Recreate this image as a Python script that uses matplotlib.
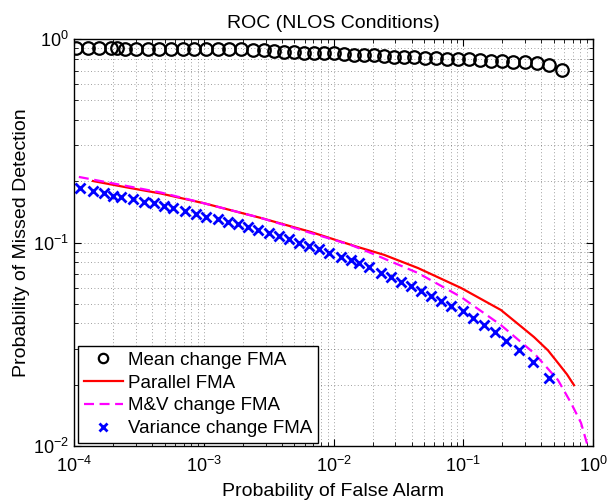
import numpy as np
import matplotlib
matplotlib.use("Agg")
import matplotlib.pyplot as plt
from matplotlib.ticker import LogLocator, NullFormatter

plt.rcParams["font.family"] = ["Liberation Sans", "DejaVu Sans"]
plt.rcParams["mathtext.fontset"] = "custom"
plt.rcParams["mathtext.rm"] = "Liberation Sans"

# Mean change FMA (circles)
pfa_mean = [1.04e-4, 1.28e-4, 1.56e-4, 1.93e-4, 2.14e-4, 2.47e-4, 3.01e-4, 3.72e-4,
            4.52e-4, 5.59e-4, 6.92e-4, 8.41e-4, 1.04e-3, 1.29e-3, 1.57e-3, 1.94e-3,
            2.40e-3, 2.91e-3, 3.48e-3, 4.15e-3, 4.96e-3, 5.92e-3, 7.07e-3, 8.45e-3,
            1.01e-2, 1.20e-2, 1.44e-2, 1.72e-2, 2.05e-2, 2.45e-2, 2.93e-2, 3.49e-2,
            4.17e-2, 5.07e-2, 6.17e-2, 7.50e-2, 9.11e-2, 0.111, 0.135, 0.164,
            0.199, 0.242, 0.299, 0.370, 0.458, 0.577]
pmd_mean = [0.903, 0.903, 0.903, 0.903, 0.903, 0.898, 0.898, 0.898,
            0.898, 0.898, 0.893, 0.893, 0.893, 0.893, 0.888, 0.888,
            0.883, 0.878, 0.873, 0.868, 0.863, 0.858, 0.854, 0.849,
            0.849, 0.844, 0.839, 0.834, 0.830, 0.825, 0.820, 0.816,
            0.816, 0.811, 0.807, 0.802, 0.798, 0.793, 0.789, 0.784,
            0.780, 0.775, 0.771, 0.762, 0.745, 0.704]

# Parallel FMA (solid red)
pfa_par = [1.40e-4, 2.5e-4, 4.68e-4, 1.0e-3, 2.76e-3, 6.71e-3, 1.5e-2, 2.45e-2,
           4.48e-2, 9.61e-2, 0.195, 0.28, 0.351, 0.45, 0.537, 0.63, 0.714]
pmd_par = [0.2005, 0.187, 0.174, 0.156, 0.132, 0.1126, 0.0955, 0.0870,
           0.0749, 0.0598, 0.0466, 0.0386, 0.0343, 0.0295, 0.0256, 0.0225, 0.0199]

# M&V change FMA (dashed magenta)
pfa_mv = [1.09e-4, 2.5e-4, 4.68e-4, 1.0e-3, 2.76e-3, 6.71e-3, 1.365e-2, 1.945e-2,
          4.48e-2, 9.61e-2, 0.195, 0.351, 0.537, 0.676, 0.808, 0.915, 0.95]
pmd_mv = [0.210, 0.190, 0.176, 0.156, 0.132, 0.1113, 0.0972, 0.0888,
          0.0708, 0.0540, 0.0393, 0.0286, 0.0211, 0.0163, 0.0130, 0.00989, 0.0076]

# Variance change FMA (blue crosses)
pfa_var = [1.12e-4, 1.39e-4, 1.71e-4, 1.99e-4, 2.30e-4, 2.83e-4, 3.48e-4, 4.16e-4,
           4.97e-4, 5.76e-4, 7.17e-4, 8.71e-4, 1.05e-3, 1.28e-3, 1.53e-3, 1.83e-3,
           2.18e-3, 2.61e-3, 3.20e-3, 3.82e-3, 4.56e-3, 5.45e-3, 6.51e-3, 7.77e-3,
           9.29e-3, 1.14e-2, 1.36e-2, 1.58e-2, 1.88e-2, 2.32e-2, 2.77e-2, 3.31e-2,
           3.96e-2, 4.72e-2, 5.64e-2, 6.74e-2, 8.05e-2, 9.96e-2, 0.119, 0.144,
           0.176, 0.214, 0.269, 0.345, 0.458]
pmd_var = [0.1846, 0.1797, 0.1745, 0.1698, 0.1668, 0.1631, 0.1586, 0.1558,
           0.1511, 0.1472, 0.1428, 0.1380, 0.1339, 0.1300, 0.1265, 0.1228,
           0.1196, 0.1152, 0.1110, 0.1076, 0.1036, 0.0991, 0.0961, 0.0926,
           0.0891, 0.0851, 0.0820, 0.0790, 0.0758, 0.0708, 0.0677, 0.0639,
           0.0611, 0.0578, 0.0546, 0.0516, 0.0487, 0.0461, 0.0426, 0.0393,
           0.0363, 0.0328, 0.0296, 0.0259, 0.0216]

fig = plt.figure(figsize=(6.07, 5.0), dpi=100)
ax = fig.add_axes([74 / 607, 1 - 446 / 500, (593 - 74) / 607, (446 - 39) / 500])

ax.loglog(pfa_mean, pmd_mean, "o", mfc="none", mec="black", ms=9, mew=1.6,
          label="Mean change FMA")
ax.loglog(pfa_par, pmd_par, "-", color="red", lw=1.6, label="Parallel FMA")
ax.loglog(pfa_mv, pmd_mv, "--", color="magenta", lw=1.6, dashes=(4.5, 2.5),
          label="M&V change FMA")
ax.loglog(pfa_var, pmd_var, "x", color="blue", ms=7, mew=2,
          label="Variance change FMA")

ax.set_xlim(1e-4, 1)
ax.set_ylim(1e-2, 1)
ax.xaxis.set_major_locator(LogLocator(base=10, numticks=10))
ax.yaxis.set_major_locator(LogLocator(base=10, numticks=10))
ax.xaxis.set_minor_locator(LogLocator(base=10, subs=np.arange(2, 10), numticks=20))
ax.yaxis.set_minor_locator(LogLocator(base=10, subs=np.arange(2, 10), numticks=20))
ax.xaxis.set_minor_formatter(NullFormatter())
ax.yaxis.set_minor_formatter(NullFormatter())

ax.grid(True, which="both", linestyle=(0, (1, 3)), color="black", lw=0.6, alpha=0.5)
ax.tick_params(which="both", direction="in", top=True, right=True, labelsize=13)
ax.tick_params(axis="x", pad=7)
ax.tick_params(which="major", length=5)
ax.tick_params(which="minor", length=3)
for s in ax.spines.values():
    s.set_linewidth(1.0)

ax.set_title("ROC (NLOS Conditions)", fontsize=14, pad=8)
ax.set_xlabel("Probability of False Alarm", fontsize=14, labelpad=5)
ax.set_ylabel("Probability of Missed Detection", fontsize=14, labelpad=2)

leg = ax.legend(loc="lower left", bbox_to_anchor=(0.008, 0.008), fontsize=13.5,
                fancybox=False, framealpha=1, edgecolor="black",
                handlelength=2.1, markerscale=0.75, borderpad=0.3,
                labelspacing=0.3, handletextpad=0.25, borderaxespad=0)
leg.get_frame().set_linewidth(1.0)

fig.savefig("out.png", dpi=100)
